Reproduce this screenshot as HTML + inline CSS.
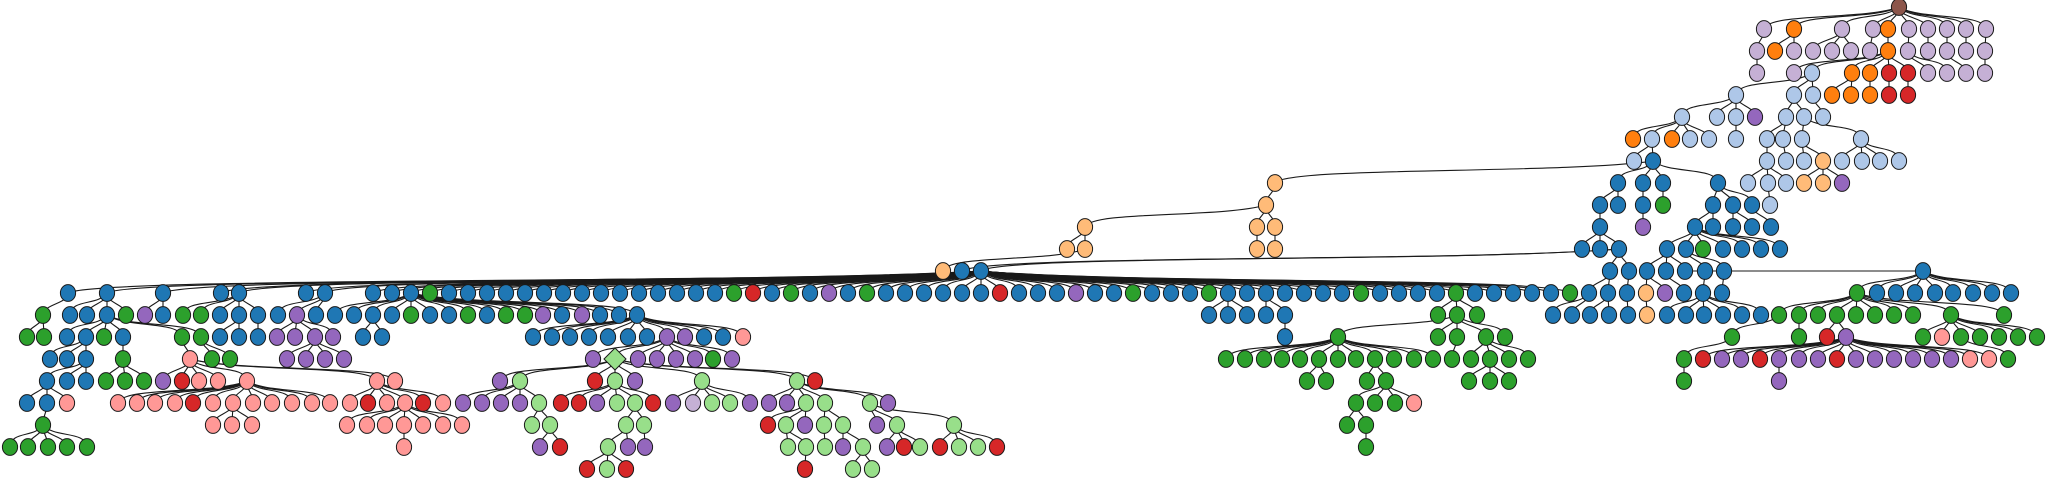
<!DOCTYPE html>
<html><head><meta charset="utf-8"><style>html,body{margin:0;padding:0;background:#fff;width:2048px;height:483px;overflow:hidden}svg{display:block}</style></head>
<body>
<svg id="s" width="2048" height="483" xmlns="http://www.w3.org/2000/svg"><rect width="2048" height="483" fill="#fff"/><g id="e" fill="none" stroke="#1a1a1a" stroke-width="1.1"></g><g id="n" stroke="#1a1a1a" stroke-width="1"></g></svg>
<script>
const C={b:'#1f77b4',l:'#aec7e8',o:'#ff7f0e',O:'#ffbb78',g:'#2ca02c',G:'#98df8a',r:'#d62728',R:'#ff9896',p:'#9467bd',P:'#c5b0d5',n:'#8c564b'};
const Y=r=>7+r*22;
const nodes={},edges=[];
function A(pk,row,xs,cs){xs.forEach((x,i)=>{const c=cs.length==1?cs:cs[i];const k=x+':'+row;nodes[k]={x:x,y:Y(row),c:C[c]};if(pk)edges.push([pk,k]);});}
A(null,0,[1899],'n');
A('1899:0',1,[1764,1794,1842,1873,1888,1909,1928,1947,1966,1986],'PoPPoPPPPP');
A('1764:1',2,[1757],'P');A('1794:1',2,[1775,1794],'oP');A('1842:1',2,[1813,1832,1851],'P');
A('1873:1',2,[1870],'P');A('1888:1',2,[1888],'o');A('1909:1',2,[1908],'P');
A('1928:1',2,[1928],'P');A('1947:1',2,[1947],'P');A('1966:1',2,[1966],'P');A('1986:1',2,[1985],'P');
A('1757:2',3,[1757],'P');A('1888:2',3,[1794,1812,1852,1870,1889,1908],'Ploorr');
A('1908:2',3,[1928,1947],'P');A('1947:2',3,[1966],'P');A('1985:2',3,[1985],'P');
A('1812:3',4,[1736,1794,1813],'l');A('1852:3',4,[1832,1851],'o');A('1870:3',4,[1870],'o');
A('1889:3',4,[1889],'r');A('1908:3',4,[1908],'r');
A('1736:4',5,[1682,1717,1736,1755],'lllp');A('1794:4',5,[1786,1804],'l');A('1813:4',5,[1823],'l');
A('1682:5',6,[1633,1652,1672,1690,1709],'ololl');A('1736:5',6,[1736],'l');A('1786:5',6,[1767,1783],'l');A('1804:5',6,[1802,1861],'l');
A('1652:6',7,[1634,1653],'lb');A('1767:6',7,[1767],'l');A('1783:6',7,[1786],'l');A('1802:6',7,[1804,1823],'lO');
A('1861:6',7,[1842,1862,1880,1899],'l');
A('1653:7',8,[1618,1643,1663,1718],'b');A('1653:7',8,[1275],'O');
A('1767:7',8,[1748,1768,1786],'l');A('1823:7',8,[1804,1823,1842],'OOp');
A('1618:8',9,[1600,1618],'b');A('1643:8',9,[1643],'b');A('1663:8',9,[1663],'g');
A('1718:8',9,[1713,1733,1752],'b');A('1768:8',9,[1770],'l');A('1275:8',9,[1266],'O');
A('1600:9',10,[1600],'b');A('1643:9',10,[1643],'p');A('1713:9',10,[1695,1713],'b');
A('1733:9',10,[1733,1752],'b');A('1752:9',10,[1771],'b');A('1266:9',10,[1085,1257,1275],'O');
A('1600:10',11,[1582,1600,1619],'b');A('1695:10',11,[1667,1686,1703,1723,1742,1761,1780],'bbgbbbb');
A('1085:10',11,[1067,1085],'O');A('1257:10',11,[1257],'O');A('1275:10',11,[1275],'O');
A('1619:11',12,[962,981],'b');A('1619:11',12,[1610,1629],'b');A('1085:11',12,[943],'O');
A('1667:11',12,[1647,1666,1685],'b');A('1686:11',12,[1705,1724],'b');A('1685:12',12,[1923],'b');
// main row
(function(){const xs=[68,107,163,221,239,306,325];let cs='bbbbbbb';const sp={3:'g',19:'g',20:'r',22:'g',24:'p',26:'g',33:'r',37:'p',40:'g',44:'g',52:'g',57:'g',63:'g'};
for(let i=0;i<=63;i++){xs.push(373+19*i);cs+=(sp[i]||'b');}A('981:12',13,xs,cs);})();
A('1610:12',13,[1589,1608],'b');A('1629:12',13,[1627],'b');A('1647:12',13,[1646,1665],'Op');
A('1666:12',13,[1684],'b');A('1705:12',13,[1703],'b');A('1724:12',13,[1722],'b');
A('1923:12',13,[1857,1877,1896,1915,1935,1953,1973,1992,2011],'gbbbbbbbb');
// r14
A('68:13',14,[43],'g');A('107:13',14,[70,87,107,126],'bbbg');A('163:13',14,[145,163],'pb');
A('239:13',14,[183,201,220,239,258],'ggbbb');A('325:13',14,[278,297,316],'bpb');
A('411:13',14,[335,354,373,392,411,430,449,468,487,506,525,543,562,582,600,619,637],'bbbbgbbgbggpbpbbb');
A('1228:13',14,[1209,1228,1247],'b');A('1266:13',14,[1266,1285],'b');A('1456:13',14,[1438,1457,1477],'g');
A('1589:13',14,[1553,1572],'b');A('1608:13',14,[1590,1609],'b');A('1627:13',14,[1628],'b');A('1646:13',14,[1647],'O');
A('1703:13',14,[1667,1686,1704,1723,1742,1761],'b');
A('1857:13',14,[1779,1799,1818,1837,1856,1875,1894,1913,1951,2004],'g');
// r15
A('43:14',15,[27,44],'g');A('107:14',15,[67,86,104,123],'bbgb');A('107:14',15,[182,201],'g');
A('239:14',15,[220,239],'b');A('258:14',15,[258],'b');A('297:14',15,[277,295,315,333],'p');A('373:14',15,[363,382],'b');
A('637:14',15,[533,552,570,589,608,628,647,667,685,704,723,743],'bbbbbbbppbbR');
A('1285:14',15,[1285],'b');A('1457:14',15,[1338,1438,1457,1486,1505],'g');
A('1779:14',15,[1732],'g');A('1799:14',15,[1799],'g');A('1837:14',15,[1827,1846],'rp');
A('1951:14',15,[1923,1942,1961,1980,1999,2018,2037],'gRggggg');
// r16
A('86:15',16,[50,67,86],'b');A('123:15',16,[123],'g');A('182:15',16,[190],'R');A('201:15',16,[212,230],'g');
A('315:15',16,[287,306,325,344],'p');
A('667:15',16,[593,615,638,657,676,695,713,732],'pGppppgp');
A('1338:15',16,[1226,1245,1264,1282,1300,1319,1338,1356,1375,1394,1414,1433],'g');
A('1457:15',16,[1452],'g');A('1486:15',16,[1471,1490,1509,1528],'g');A('1732:15',16,[1684],'g');
A('1846:15',16,[1703,1722,1741,1760,1779,1799,1818,1837,1856,1875,1894,1913,1932,1951,1970,1989],'rpprpppr' + 'ppppppRR');
A('1961:15',16,[2008],'g');
// r17
A('86:16',17,[47,67,86],'b');A('123:16',17,[106,125,144],'g');
A('190:16',17,[163,182,199,218,247,377,395],'prRRRRR');
A('615:16',17,[500,520,595,615,635,702,797,815],'pGrGpGGr');
A('1319:16',17,[1307,1326],'g');A('1375:16',17,[1367,1386],'g');A('1490:16',17,[1469,1490,1509],'g');
A('1684:16',17,[1684],'g');A('1779:16',17,[1779],'p');
// r18
A('47:17',18,[27,47,67],'bbR');
A('247:17',18,[118,137,155,175,193,213,233,253,272,292,312,330],'RRRRrRRRRRRR');
A('377:17',18,[350,368,387,405,423,443],'RrRRrR');
A('520:17',18,[463,482,501,520,539],'ppppG');
A('615:17',18,[561,579,597,617,635,653],'rrpGGr');
A('702:17',18,[673,693,712,730,750],'pPGGp');
A('797:17',18,[769,787,806,825,870,888],'ppGGGp');
A('1386:17',18,[1356,1375,1395,1414],'gggR');
// r19
A('47:18',19,[43],'g');A('233:18',19,[213,232,252],'R');A('405:18',19,[347,367,385,404,423,443,462],'R');
A('539:18',19,[532,550],'G');A('635:18',19,[626,644],'G');A('806:18',19,[768,786,805],'rGp');
A('825:18',19,[824,843],'G');A('870:18',19,[877,897,954],'pGG');A('1356:18',19,[1347,1366],'g');
// r20
A('43:19',20,[10,28,48,67,87],'g');A('404:19',20,[404],'R');A('550:19',20,[540,560],'pr');
A('626:19',20,[608,628],'Gp');A('644:19',20,[645],'p');A('786:19',20,[788,806],'G');A('824:19',20,[825],'G');
A('843:19',20,[843,863],'pG');A('897:19',20,[887,904,920],'prG');A('954:19',20,[940,959,978,997],'rGGr');
A('1366:19',20,[1366],'g');
// r21
A('608:20',21,[587,607,626],'rGr');A('806:20',21,[805],'r');A('863:20',21,[853,872],'G');

const NS='http://www.w3.org/2000/svg';
const eg=document.getElementById('e'),ng=document.getElementById('n');
edges.forEach(([a,b])=>{const p=nodes[a],c=nodes[b];if(!p||!c)return;
 const dx=c.x-p.x,dy=c.y-p.y;let d;
 if(Math.abs(dx)<30){d=`M${p.x},${p.y}C${p.x},${p.y+dy*0.5} ${c.x},${c.y-dy*0.5} ${c.x},${c.y}`;}
 else{d=`M${p.x},${p.y}C${p.x+dx*0.25},${p.y+dy*0.6} ${c.x-dx*0.03},${c.y-dy*0.75} ${c.x},${c.y}`;}
 const e=document.createElementNS(NS,'path');e.setAttribute('d',d);eg.appendChild(e);});
Object.keys(nodes).forEach(k=>{const n=nodes[k];let e;
 if(k==='615:16'){e=document.createElementNS(NS,'polygon');e.setAttribute('points',`${n.x},${n.y-11} ${n.x+11},${n.y} ${n.x},${n.y+11} ${n.x-11},${n.y}`);}
 else{e=document.createElementNS(NS,'ellipse');e.setAttribute('cx',n.x);e.setAttribute('cy',n.y);e.setAttribute('rx',7.6);e.setAttribute('ry',8.4);}
 e.setAttribute('fill',n.c);ng.appendChild(e);});
</script>
</body></html>
